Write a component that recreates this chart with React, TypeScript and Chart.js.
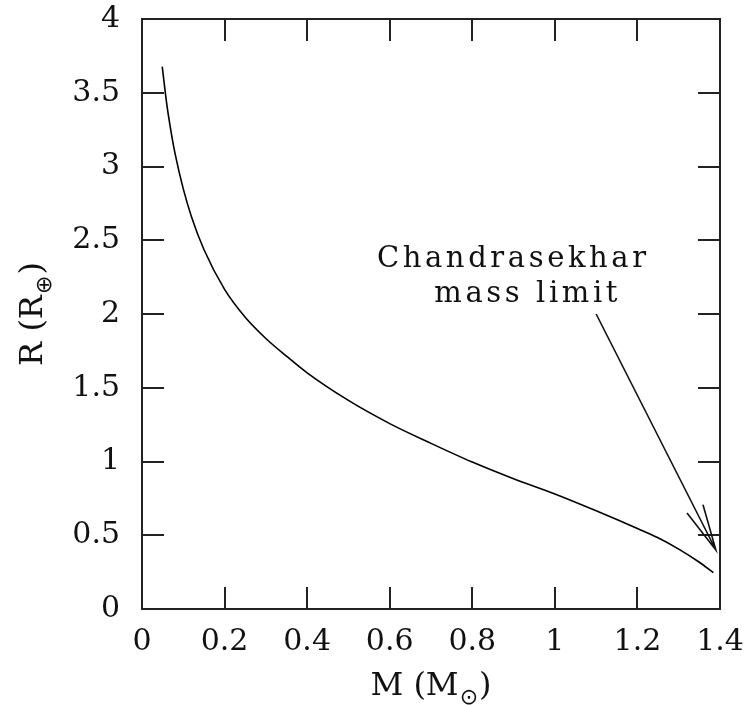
import React, { useEffect, useRef } from 'react';
import { Chart, registerables } from 'chart.js';

Chart.register(...registerables);

// Mass–radius relation of white dwarfs
const massValues = [0.049, 0.06, 0.07, 0.08, 0.10, 0.12, 0.15, 0.20, 0.25, 0.30, 0.35, 0.40, 0.50, 0.60, 0.70, 0.80, 0.90, 1.00, 1.10, 1.20, 1.25, 1.30, 1.35, 1.384];
const radiusValues = [3.677, 3.423, 3.242, 3.089, 2.848, 2.658, 2.437, 2.167, 1.978, 1.834, 1.714, 1.601, 1.414, 1.257, 1.123, 0.996, 0.883, 0.780, 0.666, 0.546, 0.483, 0.406, 0.317, 0.246];

const xTickValues = [0, 0.2, 0.4, 0.6, 0.8, 1.0, 1.2, 1.4];
const xTickLabels = ['0', '0.2', '0.4', '0.6', '0.8', '1', '1.2', '1.4'];
const yTickValues = [0, 0.5, 1, 1.5, 2, 2.5, 3, 3.5, 4];
const yTickLabels = ['0', '0.5', '1', '1.5', '2', '2.5', '3', '3.5', '4'];

// Annotation: text lines, their anchors (data coords: left edge, baseline), and arrow
const annotationLines = ['Chandrasekhar', 'mass limit'];
const annotationAnchorM = [0.569, 0.708];
const annotationAnchorR = [2.321, 2.083];
const arrowFrom = [1.1, 2.0];
const arrowTo = [1.39, 0.40];

const xTitleMain = 'M (M';
const xTitleSub = '⊙';
const yTitleMain = 'R (R';
const yTitleSub = '⊕';
const titleEnd = ')';

const FONT = 'DejaVu Serif';
const INK = '#111';

function drawTitle(ctx: CanvasRenderingContext2D, cx: number, cy: number, rot: number, main: string, sub: string) {
  ctx.save();
  ctx.translate(cx, cy);
  ctx.rotate(rot);
  ctx.fillStyle = INK;
  ctx.textBaseline = 'alphabetic';
  ctx.textAlign = 'left';
  const mainFont = `32px "${FONT}"`;
  const subFont = `22px "DejaVu Sans"`;
  ctx.font = mainFont;
  const w1 = ctx.measureText(main).width;
  const w3 = ctx.measureText(titleEnd).width;
  ctx.font = subFont;
  const w2 = ctx.measureText(sub).width;
  const total = w1 + w2 + w3 + 2;
  let x = -total / 2;
  ctx.font = mainFont;
  ctx.fillText(main, x, 0);
  x += w1 + 1;
  ctx.font = subFont;
  ctx.fillText(sub, x, 9);
  x += w2 + 1;
  ctx.font = mainFont;
  ctx.fillText(titleEnd, x, 0);
  ctx.restore();
}

const overlay = {
  id: 'overlay',
  afterDraw(chart: any) {
    const { ctx, chartArea: a, scales } = chart;
    const xs = scales.x;
    const ys = scales.y;
    const TICK = 22;
    ctx.save();
    ctx.strokeStyle = '#222';
    ctx.lineWidth = 2;
    ctx.lineCap = 'butt';
    ctx.strokeRect(a.left, a.top, a.right - a.left, a.bottom - a.top);
    ctx.beginPath();
    xTickValues.forEach((v) => {
      const px = Math.round(xs.getPixelForValue(v));
      ctx.moveTo(px, a.bottom);
      ctx.lineTo(px, a.bottom - TICK);
      ctx.moveTo(px, a.top);
      ctx.lineTo(px, a.top + TICK);
    });
    yTickValues.forEach((v) => {
      const py = Math.round(ys.getPixelForValue(v));
      ctx.moveTo(a.left, py);
      ctx.lineTo(a.left + TICK, py);
      ctx.moveTo(a.right, py);
      ctx.lineTo(a.right - TICK, py);
    });
    ctx.stroke();

    // Arrow
    const x0 = xs.getPixelForValue(arrowFrom[0]);
    const y0 = ys.getPixelForValue(arrowFrom[1]);
    const x1 = xs.getPixelForValue(arrowTo[0]);
    const y1 = ys.getPixelForValue(arrowTo[1]);
    const ang = Math.atan2(y1 - y0, x1 - x0);
    const headLen = 47;
    const spread = (11 * Math.PI) / 180;
    ctx.strokeStyle = '#111';
    ctx.lineWidth = 1.6;
    ctx.beginPath();
    ctx.moveTo(x0, y0);
    ctx.lineTo(x1, y1);
    ctx.moveTo(x1 - headLen * Math.cos(ang - spread), y1 - headLen * Math.sin(ang - spread));
    ctx.lineTo(x1, y1);
    ctx.lineTo(x1 - headLen * Math.cos(ang + spread), y1 - headLen * Math.sin(ang + spread));
    ctx.stroke();

    // Annotation text
    ctx.fillStyle = INK;
    ctx.font = `29px "${FONT}"`;
    (ctx as any).letterSpacing = '3.6px';
    ctx.textAlign = 'left';
    ctx.textBaseline = 'alphabetic';
    annotationLines.forEach((t, i) => {
      ctx.fillText(t, xs.getPixelForValue(annotationAnchorM[i]), ys.getPixelForValue(annotationAnchorR[i]));
    });
    (ctx as any).letterSpacing = '0px';
    ctx.restore();

    // Axis titles
    drawTitle(ctx, (a.left + a.right) / 2, 695, 0, xTitleMain, xTitleSub);
    drawTitle(ctx, 42, (a.top + a.bottom) / 2, -Math.PI / 2, yTitleMain, yTitleSub);
  },
};

function zeroPadding(s: any) {
  s.paddingTop = 0;
  s.paddingBottom = 0;
  s.paddingLeft = 0;
  s.paddingRight = 0;
}

export default function App() {
  const ref = useRef<HTMLCanvasElement | null>(null);
  useEffect(() => {
    if (!ref.current) return;
    const chart = new Chart(ref.current, {
      type: 'scatter',
      data: {
        datasets: [
          {
            data: massValues.map((m, i) => ({ x: m, y: radiusValues[i] })),
            showLine: true,
            borderColor: '#000',
            borderWidth: 1.6,
            pointRadius: 0,
            cubicInterpolationMode: 'monotone',
            fill: false,
          },
        ],
      },
      options: {
        responsive: false,
        animation: false,
        devicePixelRatio: 1,
        layout: { padding: { top: 19, right: 27, left: 0, bottom: 0 } },
        plugins: { legend: { display: false }, tooltip: { enabled: false } },
        scales: {
          x: {
            type: 'linear',
            position: 'bottom',
            min: 0,
            max: 1.4,
            grid: { display: false, drawTicks: false },
            border: { display: false },
            afterBuildTicks: (s: any) => {
              s.ticks = xTickValues.map((v) => ({ value: v }));
            },
            afterFit: (s: any) => {
              s.height = 96;
              zeroPadding(s);
            },
            ticks: {
              autoSkip: false,
              maxRotation: 0,
              padding: 15,
              color: INK,
              font: { family: FONT, size: 30 },
              callback: (_v: any, i: number) => xTickLabels[i],
            },
          },
          y: {
            type: 'linear',
            min: 0,
            max: 4,
            grid: { display: false, drawTicks: false },
            border: { display: false },
            afterBuildTicks: (s: any) => {
              s.ticks = yTickValues.map((v) => ({ value: v }));
            },
            afterFit: (s: any) => {
              s.width = 142;
              zeroPadding(s);
            },
            ticks: {
              autoSkip: false,
              padding: 22,
              color: INK,
              font: { family: FONT, size: 30 },
              callback: (_v: any, i: number) => yTickLabels[i],
            },
          },
        },
      },
      plugins: [overlay],
    } as any);
    return () => chart.destroy();
  }, []);
  return (
    <div style={{ position: 'absolute', left: 0, top: 0, width: 747, height: 705, background: '#fff' }}>
      <canvas ref={ref} width={747} height={705} style={{ width: 747, height: 705, display: 'block' }} />
    </div>
  );
}
